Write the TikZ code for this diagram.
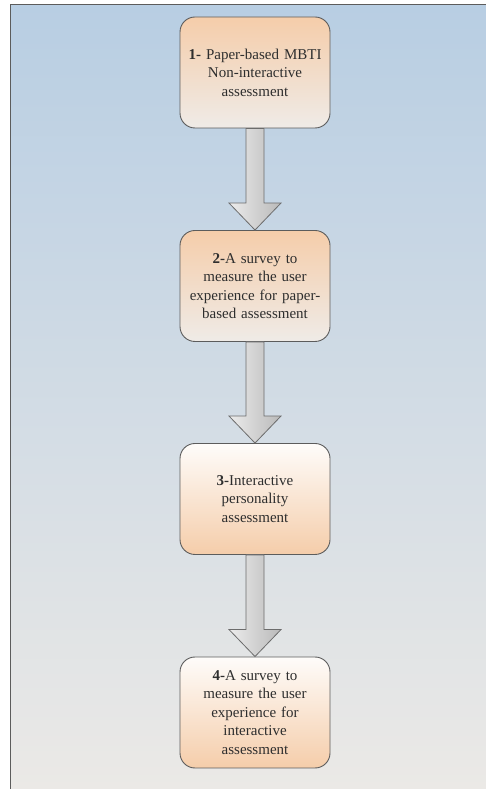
\documentclass[tikz,border=0pt]{standalone}
\usepackage{fontspec}
\setmainfont{Liberation Serif}
\usepackage{tikz}
\usetikzlibrary{calc,positioning}
\definecolor{bgTop}{HTML}{B8CEE3}
\definecolor{bgBot}{HTML}{EBE9E6}
\definecolor{boxPeach}{HTML}{F5CDAA}
\definecolor{boxPale}{HTML}{EFEBE7}
\definecolor{boxWhite}{HTML}{FEFCFA}
\definecolor{boxLine}{HTML}{5C5C5C}
\definecolor{txtDark}{HTML}{2E2E2E}

% block arrow from the bottom of one step to the top of the next
\newcommand\steparrow[2]{%
  \path[flowarrow] ($(#1.south)+(-9,0)$) -- ($(#2.north)+(-9,27)$)
    -- ($(#2.north)+(-26,27)$) -- (#2.north) -- ($(#2.north)+(26,27)$)
    -- ($(#2.north)+(9,27)$) -- ($(#1.south)+(9,0)$) -- cycle;}

\begin{document}
\begin{tikzpicture}[
  x=1pt,y=1pt,
  font=\fontsize{15}{18.5}\selectfont,
  stepbox/.style={draw=boxLine,line width=0.9pt,rounded corners=15pt,
                  minimum width=150pt,text width=146pt,align=center,
                  text=txtDark,inner sep=0pt},
  warm/.style={stepbox,top color=boxPeach,bottom color=boxPale,minimum height=111pt},
  cool/.style={stepbox,top color=boxWhite,bottom color=boxPeach,minimum height=111pt},
  flowarrow/.style={draw=boxLine!90,line width=0.8pt,left color=gray!15,right color=gray!55}
]
\useasboundingbox (0,0) rectangle (486,789);
\shade[top color=bgTop,bottom color=bgBot] (10,0) rectangle (486,784);
\draw[boxLine,line width=1pt] (10,0) -- (10,784) -- (486,784);

\node[warm] (s1) at (255,716.5) {\textbf{1-} Paper-based MBTI\\Non-interactive\\assessment};
\node[warm] (s2) at (255,503)   {\textbf{2-}A survey to\\measure the user\\experience for paper-\\based assessment};
\node[cool] (s3) at (255,290)   {\textbf{3-}Interactive\\personality\\assessment};
\node[cool] (s4) at (255,76.5)  {\textbf{4-}A survey to\\measure the user\\experience for\\interactive\\assessment};

\steparrow{s1}{s2}
\steparrow{s2}{s3}
\steparrow{s3}{s4}
\end{tikzpicture}
\end{document}
